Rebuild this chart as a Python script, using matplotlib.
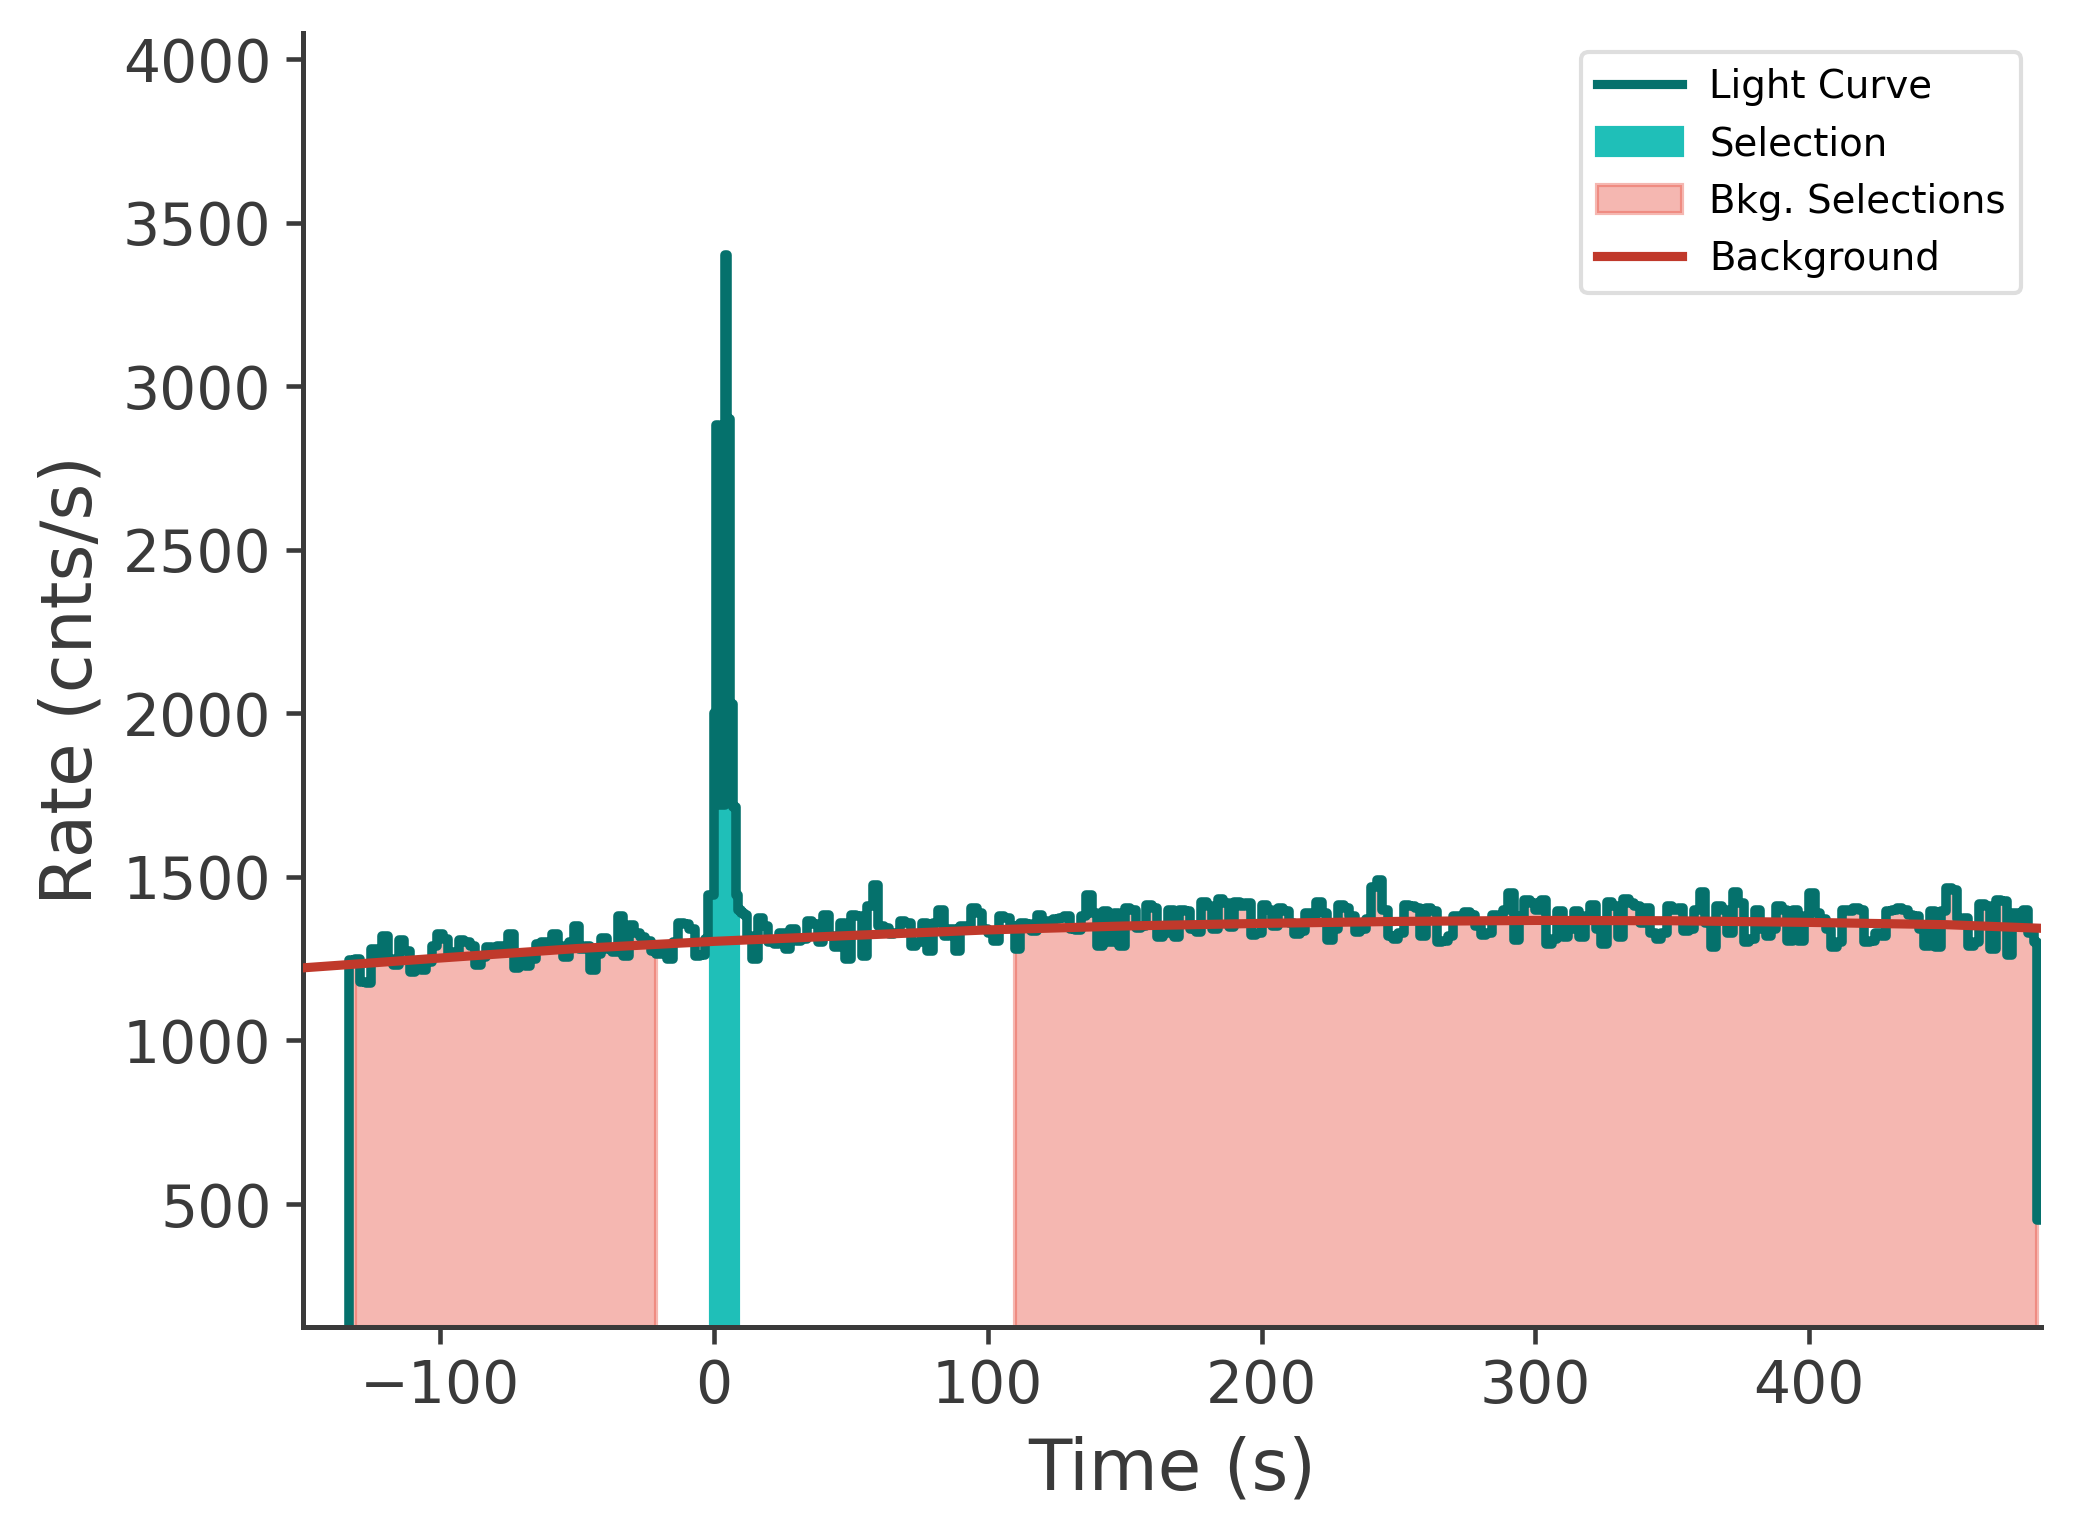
import numpy as np
import matplotlib
matplotlib.use("Agg")
import matplotlib.pyplot as plt
from matplotlib.lines import Line2D
from matplotlib.patches import Patch

# light curve: 2 s bins before the burst, 1 s bins around it, 2 s bins after
pre_edges = np.arange(-133, -3, 2)
pre_rates = [1245, 1250, 1180, 1175, 1280, 1260, 1320, 1250, 1230, 1308,
             1275, 1210, 1225, 1215, 1240, 1290, 1324, 1310, 1262, 1270,
             1308, 1300, 1290, 1232, 1255, 1285, 1270, 1290, 1280, 1324,
             1222, 1245, 1228, 1250, 1295, 1300, 1285, 1324, 1290, 1254,
             1300, 1350, 1280, 1290, 1215, 1265, 1313, 1280, 1270, 1380,
             1259, 1354, 1330, 1315, 1305, 1275, 1265, 1290, 1249, 1300,
             1360, 1355, 1340, 1258, 1262]

burst_edges = np.arange(-3, 12, 1)
burst_rates = [1310, 1445, 1445, 2000, 2880, 1720, 1720, 3400, 2900, 2030,
               1715, 1445, 1400, 1390, 1385]

post_edges = np.arange(12, 482, 2)
post_rates = [1320, 1250, 1373, 1350, 1300, 1295, 1330, 1280, 1340, 1304,
              1310, 1365, 1355, 1300, 1383, 1320, 1285, 1360, 1250, 1385,
              1380, 1258, 1410, 1475, 1350, 1345, 1326, 1330, 1365, 1360,
              1290, 1300, 1360, 1275, 1360, 1400, 1320, 1340, 1275, 1350,
              1340, 1405, 1390, 1340, 1330, 1305, 1380, 1375, 1350, 1280,
              1360, 1355, 1334, 1383, 1365, 1350, 1370, 1375, 1380, 1340,
              1338, 1380, 1445, 1390, 1290, 1395, 1300, 1390, 1290, 1404,
              1400, 1345, 1350, 1414, 1405, 1316, 1330, 1400, 1316, 1400,
              1395, 1340, 1331, 1424, 1410, 1340, 1434, 1420, 1347, 1424,
              1410, 1420, 1321, 1330, 1414, 1400, 1350, 1405, 1395, 1360,
              1326, 1335, 1390, 1385, 1424, 1390, 1306, 1340, 1414, 1405,
              1380, 1331, 1340, 1370, 1470, 1490, 1400, 1320, 1311, 1330,
              1414, 1410, 1405, 1320, 1405, 1395, 1300, 1305, 1320, 1380,
              1370, 1393, 1385, 1350, 1321, 1330, 1385, 1380, 1400, 1450,
              1306, 1380, 1430, 1420, 1400, 1430, 1295, 1310, 1395, 1316,
              1340, 1395, 1316, 1380, 1414, 1340, 1295, 1424, 1410, 1316,
              1434, 1420, 1410, 1360, 1405, 1330, 1311, 1330, 1410, 1400,
              1405, 1336, 1340, 1400, 1455, 1360, 1285, 1410, 1400, 1330,
              1455, 1420, 1300, 1310, 1400, 1340, 1320, 1340, 1410, 1400,
              1303, 1400, 1303, 1380, 1450, 1390, 1370, 1340, 1285, 1300,
              1400, 1395, 1405, 1400, 1300, 1305, 1330, 1320, 1395, 1400,
              1405, 1400, 1385, 1380, 1340, 1290, 1395, 1285, 1395, 1465,
              1460, 1370, 1375, 1290, 1300, 1416, 1410, 1280, 1430, 1425,
              1260, 1390, 1370, 1400, 1330]

tail_edges = [482, 483]
tail_rates = [1300, 450]
t_start, t_stop = -150, 484.5

selection = [(-1, 9)]
bkg_selections = [(-131, -21), (110, 483)]

bkg_time = [-150, -100, -50, 0, 50, 100, 150, 200, 250, 300, 350, 400, 450, 484.5]
bkg_rate = [1222, 1252, 1281, 1303, 1321, 1338, 1350, 1358, 1364, 1367, 1366, 1361, 1354, 1343]

lc_color = "#05716c"
sel_color = "#1fbfb8"
bkg_sel_color = "#e74c3c"
bkg_color = "#c0392b"
text_color = "#3a3a3a"

# bins: empty stretch before the data starts, then the measured bins
edges = np.concatenate([[t_start], pre_edges, burst_edges, post_edges, tail_edges, [t_stop]])
rates = np.array([0] + pre_rates + burst_rates + post_rates + tail_rates, dtype=float)

top = rates.max() * 1.2
bottom = 125

plt.rcParams["font.family"] = ["DejaVu Sans"]

fig = plt.figure(figsize=(2074 / 300, 1540 / 300), dpi=300)
ax = fig.add_axes([0.146, 0.1385, 0.838, 0.8401])


def fill_bins(tmin, tmax, **kw):
    x, y = [], []
    for lo, hi, v in zip(edges[:-1], edges[1:], rates):
        if lo >= tmin and hi <= tmax:
            x += [lo, hi]
            y += [v, v]
    ax.fill_between(x, bottom, y, **kw)


for tmin, tmax in selection:
    fill_bins(tmin, tmax, color=sel_color, zorder=1)
for tmin, tmax in bkg_selections:
    fill_bins(tmin, tmax, color=bkg_sel_color, alpha=0.4, zorder=1)

ax.step(edges, np.append(rates, rates[-1]), where="post", color=lc_color, lw=2.3, zorder=2)
ax.plot(bkg_time, bkg_rate, color=bkg_color, lw=2.2, zorder=3)

ax.set_xlim(t_start, t_stop)
ax.set_ylim(bottom, top)
ax.set_xticks([-100, 0, 100, 200, 300, 400])
ax.set_yticks(np.arange(500, 4001, 500))

for side in ["top", "right"]:
    ax.spines[side].set_visible(False)
for side in ["left", "bottom"]:
    ax.spines[side].set_linewidth(1.2)
    ax.spines[side].set_color(text_color)
ax.tick_params(axis="both", labelsize=14, length=4, width=1.1, color=text_color, labelcolor=text_color)

ax.set_xlabel("Time (s)", fontsize=17, color=text_color, labelpad=5)
ax.set_ylabel("Rate (cnts/s)", fontsize=17, color=text_color)

handles = [
    Line2D([], [], color=lc_color, lw=2.2),
    Patch(facecolor=sel_color, edgecolor=sel_color),
    Patch(facecolor=bkg_sel_color, edgecolor=bkg_sel_color, alpha=0.4),
    Line2D([], [], color=bkg_color, lw=2.2),
]
labels = ["Light Curve", "Selection", "Bkg. Selections", "Background"]
leg = ax.legend(handles, labels, loc="upper right", fontsize=9.3, frameon=True,
                handlelength=2.2, handletextpad=0.7)
leg.get_frame().set_edgecolor("#d6d6d6")

fig.savefig("out.png", dpi=300)
